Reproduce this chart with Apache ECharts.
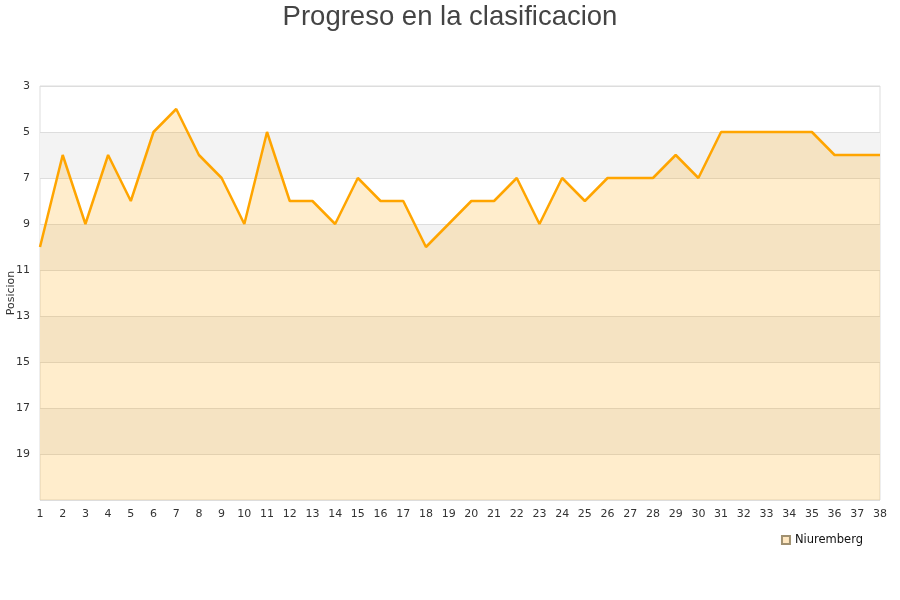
<!DOCTYPE html>
<html>
<head>
<meta charset="utf-8">
<script src="https://cdn.jsdelivr.net/npm/echarts@6/dist/echarts.min.js"></script>
<style>html,body{margin:0;padding:0;background:#fff}#c{width:900px;height:600px}</style>
</head>
<body>
<div id="c"></div>
<script>
var jornadas = [];
for (var i = 1; i <= 38; i++) jornadas.push(String(i));
var seriesName = 'Niuremberg';
var posiciones = [10,6,9,6,8,5,4,6,7,9,5,8,8,9,7,8,8,10,9,8,8,7,9,7,8,7,7,7,6,7,5,5,5,5,5,6,6,6];
var titleText = 'Progreso en la clasificacion';
var yAxisName = 'Posicion';

var chart = echarts.init(document.getElementById('c'));
chart.setOption({
  animation: false,
  title: {
    text: titleText, left: 'center', top: -2,
    textStyle: { fontFamily: 'Liberation Sans, Arial, sans-serif', fontSize: 27.5, fontWeight: 'normal', color: '#444' }
  },
  grid: { left: 40, right: 20, top: 86, bottom: 100, containLabel: false, outerBoundsMode: 'none',
    show: true, borderColor: '#ddd', borderWidth: 1, backgroundColor: 'transparent' },
  legend: {
    data: [{ name: seriesName, icon: 'rect' }],
    right: 32, top: 529, itemWidth: 8, itemHeight: 8, itemGap: 8,
    textStyle: { fontFamily: 'DejaVu Sans, sans-serif', fontSize: 11.5, color: '#111' }
  },
  xAxis: {
    type: 'category', data: jornadas, boundaryGap: false,
    axisLine: { show: false }, axisTick: { show: false },
    axisLabel: { interval: 0, color: '#333', fontFamily: 'DejaVu Sans, sans-serif', fontSize: 11, margin: 9 },
    splitLine: { show: false }
  },
  yAxis: {
    type: 'value', inverse: true, min: 3, max: 21, interval: 2,
    name: yAxisName, nameLocation: 'middle', nameGap: 23, nameRotate: 90, nameMoveOverlap: false,
    nameTextStyle: { fontFamily: 'DejaVu Sans, sans-serif', fontSize: 11, color: '#333' },
    axisLine: { show: false }, axisTick: { show: false },
    axisLabel: { color: '#333', fontFamily: 'DejaVu Sans, sans-serif', fontSize: 11, margin: 10,
      formatter: function (v) { return v === 21 ? '' : String(v); } },
    splitLine: { show: true, lineStyle: { color: '#ddd', width: 1 } },
    splitArea: { show: true, areaStyle: { color: ['rgba(255,255,255,0)', '#f3f3f3'] } }
  },
  series: [{
    name: seriesName, type: 'line', data: posiciones,
    showSymbol: false, symbol: 'none',
    lineStyle: { color: '#FFA500', width: 2.5 },
    itemStyle: { color: '#FFE7C0', borderColor: '#a09070', borderWidth: 1 },
    areaStyle: { color: 'rgba(255,165,0,0.2)', opacity: 1, origin: 'end' }
  }]
});
</script>
</body>
</html>
